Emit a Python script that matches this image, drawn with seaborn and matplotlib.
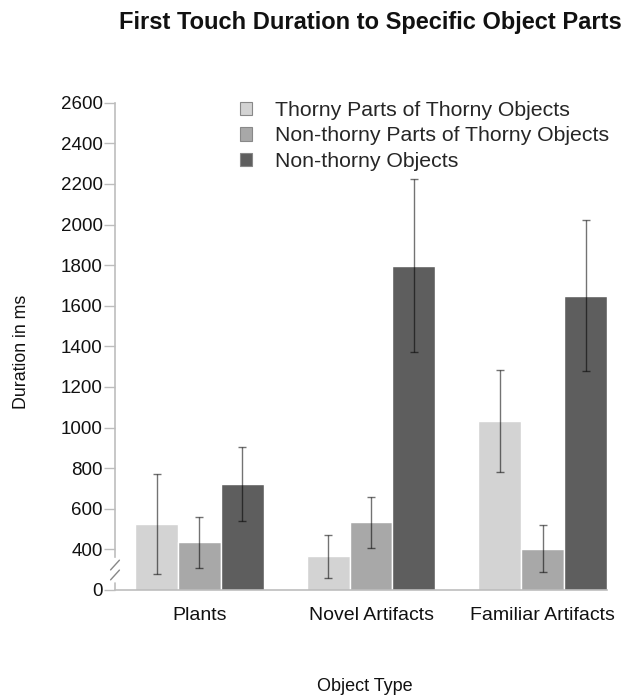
import numpy as np
import pandas as pd
import matplotlib
matplotlib.use("Agg")
import matplotlib.pyplot as plt
import seaborn as sns

# ---- data ----
categories = ["Plants", "Novel Artifacts", "Familiar Artifacts"]
series = ["Thorny Parts of Thorny Objects",
          "Non-thorny Parts of Thorny Objects",
          "Non-thorny Objects"]
thorny_parts = [525, 365, 1032]
thorny_parts_err = [248, 106, 250]
nonthorny_parts = [434, 533, 403]
nonthorny_parts_err = [126, 127, 115]
nonthorny_objects = [723, 1798, 1649]
nonthorny_objects_err = [181, 426, 372]
colors = ["#d3d3d3", "#a8a8a8", "#5e5e5e"]
ytick_values = list(range(200, 2601, 200))
ytick_labels = ["0"] + [str(v) for v in range(400, 2601, 200)]

values = [thorny_parts, nonthorny_parts, nonthorny_objects]
errors = [thorny_parts_err, nonthorny_parts_err, nonthorny_objects_err]
df = pd.DataFrame({
    "Object Type": categories * 3,
    "Part": [s for s in series for _ in categories],
    "Duration": [v for vals in values for v in vals],
})

sns.set_theme(style="white")
plt.rcParams["font.family"] = ["Liberation Sans", "DejaVu Sans"]

fig = plt.figure(figsize=(6.24, 6.98), dpi=100)
ax = fig.add_axes([115 / 624, (698 - 590) / 698, 492 / 624, (590 - 102.7) / 698])

sns.barplot(data=df, x="Object Type", y="Duration", hue="Part",
            order=categories, hue_order=series, palette=colors,
            errorbar=None, width=0.75, saturation=1, ax=ax, legend=True)

for cont, errs in zip(ax.containers, errors):
    xs = [p.get_x() + p.get_width() / 2 for p in cont]
    hs = [p.get_height() for p in cont]
    ax.errorbar(xs, hs, yerr=errs, fmt="none", ecolor="black", alpha=0.55,
                elinewidth=1, capsize=2.6, capthick=1, zorder=5)

ax.set_ylim(200, 2600)
ax.set_xlim(-0.492, 2.375)
ax.set_yticks(ytick_values)
ax.set_yticklabels(ytick_labels)

spine_col = "#bdbdbd"
for s in ["top", "right"]:
    ax.spines[s].set_visible(False)
ax.spines["left"].set_color(spine_col)
ax.spines["bottom"].set_color(spine_col)
ax.spines["left"].set_bounds(362, 2600)
ax.spines["left"].set_linewidth(1.2)
ax.spines["bottom"].set_linewidth(1.2)

# axis break
tr = ax.get_yaxis_transform()
ax.plot([0, 0], [200, 234], transform=tr, color=spine_col, lw=1.2, clip_on=False)
for yc in [323, 274]:
    ax.plot([-0.009, 0.009], [yc - 24, yc + 24], transform=tr, color="#888888",
            lw=1, clip_on=False)

ax.tick_params(axis="y", which="major", left=True, length=8, width=1,
               color=spine_col, labelsize=13.5, pad=1, labelcolor="#111111")
ax.tick_params(axis="x", length=0, labelsize=14, pad=12, labelcolor="#111111")

ax.set_xlabel("Object Type", fontsize=13, color="#111111")
ax.set_ylabel("Duration in ms", fontsize=12.8, color="#111111")
ax.xaxis.set_label_coords(0.508, -0.18)
ax.yaxis.set_label_coords(-0.173, 0.489)

leg = ax.legend(loc="upper left", bbox_to_anchor=(240 / 624, 1 - 101 / 698),
                bbox_transform=fig.transFigure, frameon=False, fontsize=15.3,
                handlelength=0.57, handleheight=0.6, handletextpad=1.1,
                labelspacing=0.3, borderaxespad=0, borderpad=0)
for h in leg.legend_handles:
    h.set_edgecolor("#888888")
    h.set_linewidth(0.8)

fig.text(370 / 624, 1 - 23 / 698, "First Touch Duration to Specific Object Parts",
         ha="center", va="center", fontsize=17, fontweight="bold", color="#111111")

fig.savefig("out.png", dpi=100)
